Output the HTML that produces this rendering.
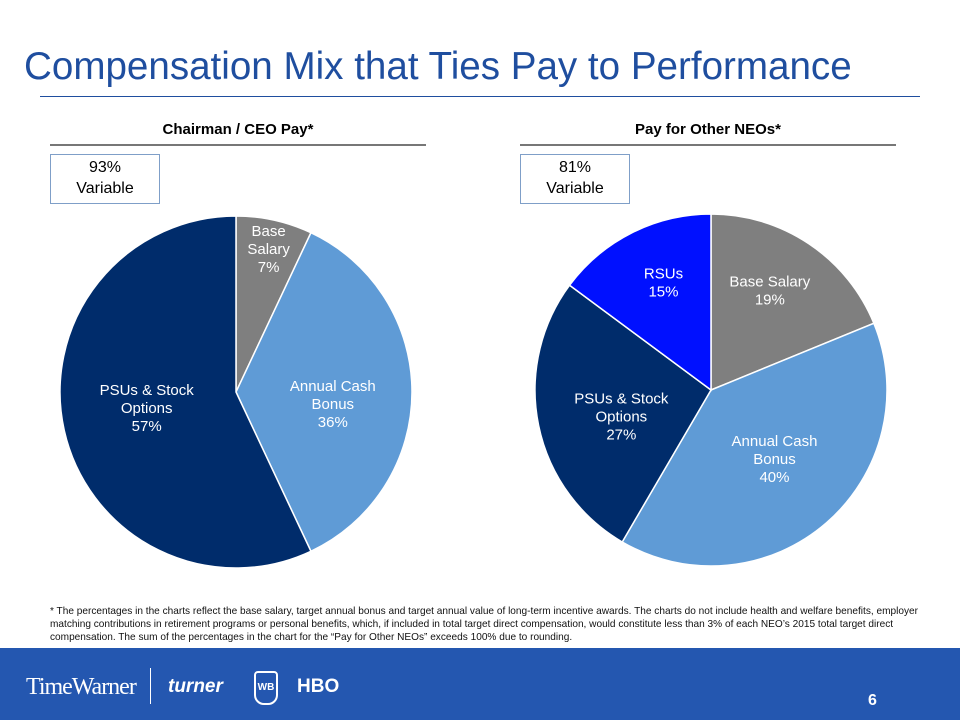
<!DOCTYPE html>
<html><head><meta charset="utf-8"><style>
body{margin:0;width:960px;height:720px;position:relative;background:#fff;font-family:"Liberation Sans",Arial,sans-serif;overflow:hidden}
.abs{position:absolute}
</style></head><body>
<div class="abs" style="left:24px;top:45px;font-size:38.6px;color:#1f4e9f;white-space:nowrap">Compensation Mix that Ties Pay to Performance</div>
<div class="abs" style="left:40px;top:96px;width:880px;height:1px;background:#1f4e9f"></div>
<div class="abs" style="left:50px;top:121px;width:376px;text-align:center;font-weight:bold;font-size:15px">Chairman / CEO Pay*</div>
<div class="abs" style="left:50px;top:144px;width:376px;height:2px;background:#777"></div>
<div class="abs" style="left:520px;top:121px;width:376px;text-align:center;font-weight:bold;font-size:15px">Pay for Other NEOs*</div>
<div class="abs" style="left:520px;top:144px;width:376px;height:2px;background:#777"></div>
<div class="abs" style="left:50px;top:154px;width:108px;height:46px;border:1px solid #7f9fc8;text-align:center;font-size:16px;line-height:21px;padding-top:2px">93%<br>Variable</div>
<div class="abs" style="left:520px;top:154px;width:108px;height:46px;border:1px solid #7f9fc8;text-align:center;font-size:16px;line-height:21px;padding-top:2px">81%<br>Variable</div>
<svg class="abs" style="left:0;top:0" width="960" height="720" id="pies"></svg>
<div class="abs" style="left:50px;top:605px;width:872px;font-size:10.1px;line-height:13px;color:#111">* The percentages in the charts reflect the base salary, target annual bonus and target annual value of long-term incentive awards. The charts do not include health and welfare benefits, employer matching contributions in retirement programs or personal benefits, which, if included in total target direct compensation, would constitute less than 3% of each NEO’s 2015 total target direct compensation. The sum of the percentages in the chart for the “Pay for Other NEOs” exceeds 100% due to rounding.</div>
<div class="abs" style="left:0;top:648px;width:960px;height:72px;background:#2457b0"></div>
<div class="abs" style="left:26px;top:674px;font-family:'Liberation Serif',serif;font-size:24px;color:#fff;letter-spacing:-1px">TimeWarner</div>
<div class="abs" style="left:150px;top:668px;width:1px;height:36px;background:#fff"></div>
<div class="abs" style="left:168px;top:676px;font-weight:bold;font-style:italic;font-size:19px;color:#fff">turner</div>
<div class="abs" style="left:254px;top:671px;width:20px;height:30px;border:2px solid #fff;border-radius:4px 4px 10px 10px;color:#fff;font-size:10px;font-weight:bold;text-align:center;line-height:30px">WB</div>
<div class="abs" style="left:297px;top:676px;font-weight:bold;font-size:19px;color:#fff">HBO</div>
<div class="abs" style="left:868px;top:692px;font-weight:bold;font-size:16px;color:#fff">6</div>
<script>
const ceoCategories=["Base Salary","Annual Cash Bonus","PSUs & Stock Options"];
const ceoValues=[7,36,57];
const ceoColors=["#7f7f7f","#5f9bd6","#002c6b"];
const ceoLabelLines=[["Base","Salary","7%"],["Annual Cash","Bonus","36%"],["PSUs & Stock","Options","57%"]];
const neoCategories=["Base Salary","Annual Cash Bonus","PSUs & Stock Options","RSUs"];
const neoValues=[19,40,27,15];
const neoColors=["#7f7f7f","#5f9bd6","#002c6b","#0010ff"];
const neoLabelLines=[["Base Salary","19%"],["Annual Cash","Bonus","40%"],["PSUs & Stock","Options","27%"],["RSUs","15%"]];
const svg=document.getElementById('pies');
const NS='http://www.w3.org/2000/svg';
function pie(cx,cy,r,vals,colors,labels,labelR,labelDy,name){
  const tot=vals.reduce((a,b)=>a+b,0);
  let a0=0;
  vals.forEach((v,i)=>{
    const a1=a0+v/tot*2*Math.PI;
    const p=(a)=>[cx+r*Math.sin(a),cy-r*Math.cos(a)];
    const [x0,y0]=p(a0),[x1,y1]=p(a1);
    const path=document.createElementNS(NS,'path');
    path.setAttribute('d',`M${cx},${cy}L${x0},${y0}A${r},${r} 0 ${a1-a0>Math.PI?1:0} 1 ${x1},${y1}Z`);
    path.setAttribute('fill',colors[i]);path.setAttribute('stroke','#fff');path.setAttribute('stroke-width','1.5');
    
    
    svg.appendChild(path);
    const am=(a0+a1)/2, lr=labelR[i]*r;
    const lx=cx+lr*Math.sin(am), ly=cy-lr*Math.cos(am)+labelDy[i];
    const t=document.createElementNS(NS,'text');
    t.setAttribute('text-anchor','middle');t.setAttribute('font-size','15');
    t.setAttribute('fill','#fff');
    t.setAttribute('font-family','Liberation Sans, Arial, sans-serif');
    
    
    const n=labels[i].length;
    labels[i].forEach((s,k)=>{const ts=document.createElementNS(NS,'tspan');ts.setAttribute('x',lx);ts.setAttribute('y',ly+(k-(n-1)/2)*18+5);ts.textContent=s;t.appendChild(ts);});
    svg.appendChild(t);
    a0=a1;
  });
}
pie(236,392,176,ceoValues,ceoColors,ceoLabelLines,[0.85,0.55,0.52],[3,12,-4],'ceo');
pie(711,390,176,neoValues,neoColors,neoLabelLines,[0.6,0.55,0.52,0.6],[-12,-4,8,-13],'neo');
</script>
</body></html>
